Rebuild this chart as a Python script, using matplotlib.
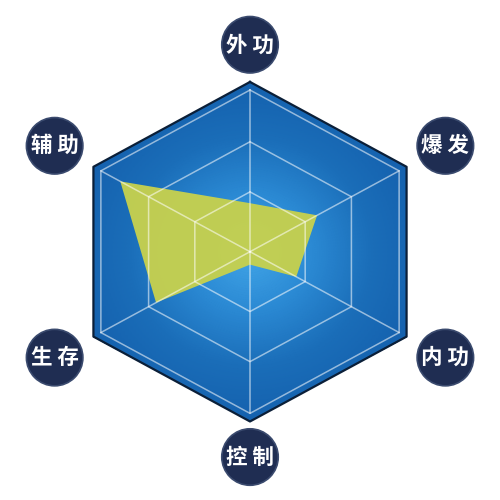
import numpy as np
import matplotlib
matplotlib.use('Agg')
import matplotlib.pyplot as plt
from matplotlib.colors import LinearSegmentedColormap

plt.rcParams['font.family'] = ['Noto Sans CJK SC', 'DejaVu Sans']

# radar data (0-100 scale, 100 = outer grid ring)
labels = ['外功', '爆发', '内功', '控制', '生存', '辅助']
values = [30, 45, 31, 8, 63, 87]
ring_levels = [37, 68, 100]
frame_level = 105

n = len(labels)
angles = np.arange(n) * 2 * np.pi / n
ang_closed = np.append(angles, angles[0])

fig = plt.figure(figsize=(5, 5), dpi=100)
fig.patch.set_facecolor('white')
h = 0.692
w = h * 1.065  # the picture is slightly wider than tall
cy = 1 - 251.7 / 500
ax = fig.add_axes([0.5 - w / 2, cy - h / 2, w, h], projection='polar')
ax.set_aspect('auto')
ax.set_theta_zero_location('N')
ax.set_theta_direction(-1)
ax.set_ylim(0, 107)
ax.axis('off')

# hexagon background with radial gradient
hexagon = ax.fill(ang_closed, [frame_level] * (n + 1), color='none', zorder=1)[0]
cmap = LinearSegmentedColormap.from_list('bg', ['#42a6e8', '#2b8ad4', '#1a6db8', '#1460ad'])
th = np.linspace(0, 2 * np.pi, 181)
rr = np.linspace(0, 107, 80)
T, R = np.meshgrid(th, rr)
mesh = ax.pcolormesh(T, R, R, cmap=cmap, shading='gouraud', zorder=1)
mesh.set_clip_path(hexagon)

# data polygon
vals_closed = values + values[:1]
ax.fill(ang_closed, vals_closed, color='#c5d04f', alpha=0.97, lw=0, zorder=2)

# grid rings and spokes (drawn over the polygon, semi-transparent)
for lv in ring_levels:
    ax.plot(ang_closed, [lv] * (n + 1), color='white', lw=1.1, alpha=0.55, zorder=3)
for a in angles:
    ax.plot([a, a], [0, ring_levels[-1]], color='white', lw=1.1, alpha=0.55, zorder=3)

# outer border
ax.plot(ang_closed, [frame_level] * (n + 1), color='#0b1f38', lw=1.6, zorder=4)

# category labels in dark circles
label_r = [128, 131, 131, 127, 131, 131]
for a, lab, r in zip(angles, labels, label_r):
    ax.text(a, r, lab[0] + ' ' + lab[1], ha='center', va='center', color='white',
            fontsize=15.5, fontweight='bold', clip_on=False, zorder=5,
            bbox=dict(boxstyle='circle,pad=0.2', fc='#1f2d52', ec='#3a4a6e', lw=1.2))

fig.savefig('out.png', dpi=100)
